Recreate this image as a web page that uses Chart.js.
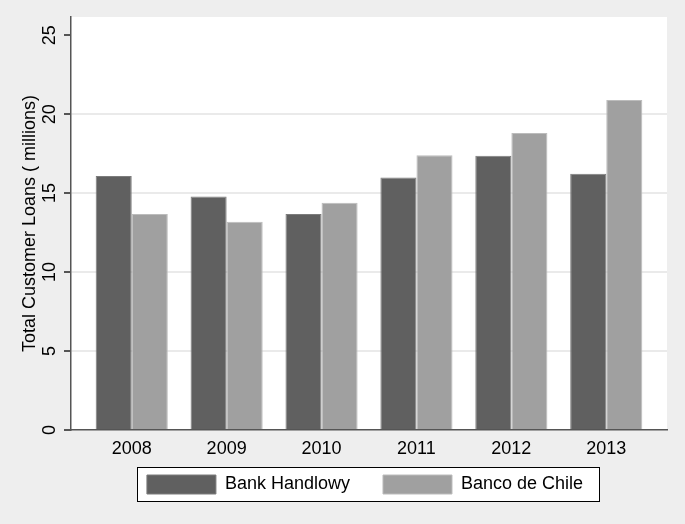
<!DOCTYPE html>
<html>
<head>
<meta charset="utf-8">
<script src="https://cdn.jsdelivr.net/npm/chart.js@4/dist/chart.umd.min.js"></script>
<style>
  html, body { margin: 0; padding: 0; background: #eeeeee; }
  #wrap { width: 685px; height: 524px; }
</style>
</head>
<body>
<div id="wrap"><canvas id="chartCanvas" width="685" height="524"></canvas></div>
<script>
// data
const years = ["2008", "2009", "2010", "2011", "2012", "2013"];
const bankHandlowy = [16.09, 14.79, 13.68, 15.98, 17.37, 16.23];
const bancoDeChile = [13.68, 13.19, 14.39, 17.39, 18.81, 20.90];
const yTicks = [0, 5, 10, 15, 20, 25];

const fontFamily = "'Liberation Sans', Arial, Helvetica, sans-serif";

// grey page, white plot region, framed legend
const backdrop = {
    id: "backdrop",
    afterLayout(chart) {
        // let the year labels hang into the legend's empty top padding
        chart.scales.x.bottom = chart.scales.x.top + 32;
        // legend sits a little left of centre, as in the original
        chart.legend.left -= 4;
        chart.legend.right -= 4;
    },
    beforeDraw(chart) {
        const ctx = chart.ctx;
        const a = chart.chartArea;
        ctx.save();
        ctx.fillStyle = "#eeeeee";
        ctx.fillRect(0, 0, chart.width, chart.height);
        ctx.fillStyle = "#ffffff";
        ctx.fillRect(a.left, a.top, a.right - a.left, a.bottom - a.top);

        const hb = chart.legend && chart.legend.legendHitBoxes;
        if (hb && hb.length) {
            const last = hb[hb.length - 1];
            const left = hb[0].left - 10;
            const right = last.left + last.width + 16;
            const top = hb[0].top - 8;
            const bottom = hb[0].top + hb[0].height + 7;
            ctx.fillStyle = "#ffffff";
            ctx.fillRect(left, top, right - left, bottom - top);
            ctx.strokeStyle = "#000000";
            ctx.lineWidth = 1;
            ctx.strokeRect(Math.round(left) + 0.5, Math.round(top) + 0.5,
                Math.round(right - left), Math.round(bottom - top));
        }
        ctx.restore();
    }
};

const ctx = document.getElementById("chartCanvas").getContext("2d");

new Chart(ctx, {
    type: "bar",
    data: {
        datasets: [
            {
                label: "Bank Handlowy",
                data: bankHandlowy.map((v, i) => ({ x: i, y: v })),
                backgroundColor: "#606060",
                borderColor: "#7c7c7c",
                borderWidth: 1,
            },
            {
                label: "Banco de Chile",
                data: bancoDeChile.map((v, i) => ({ x: i, y: v })),
                backgroundColor: "#a0a0a0",
                borderColor: "#bcbcbc",
                borderWidth: 1,
            },
        ],
    },
    options: {
        responsive: false,
        animation: false,
        categoryPercentage: 0.76,
        barPercentage: 1,
        layout: { padding: { left: 0, right: 18, top: 17, bottom: 20 } },
        plugins: {
            legend: {
                position: "bottom",
                fullSize: false,
                labels: {
                    boxWidth: 69,
                    boxHeight: 19,
                    padding: 33,
                    color: "#000000",
                    font: { family: fontFamily, size: 18 },
                },
            },
            tooltip: { enabled: false },
        },
        scales: {
            x: {
                type: "linear",
                offset: false,
                min: -0.64,
                max: 5.64,
                ticks: {
                    stepSize: 1,
                    includeBounds: false,
                    autoSkip: false,
                    maxRotation: 0,
                    padding: 8,
                    color: "#000000",
                    font: { family: fontFamily, size: 18 },
                    callback: (v) => (Number.isInteger(v) && years[v] !== undefined ? years[v] : ""),
                },
                grid: { display: false, drawTicks: false },
                border: { display: true, color: "#555555", width: 1.5 },
                afterFit: (scale) => { scale.height = 12; },
            },
            y: {
                min: 0,
                max: 26.15,
                afterBuildTicks: (scale) => {
                    scale.ticks = yTicks.map((v) => ({ value: v }));
                },
                ticks: {
                    includeBounds: false,
                    minRotation: 90,
                    maxRotation: 90,
                    crossAlign: "center",
                    padding: 4,
                    color: "#000000",
                    font: { family: fontFamily, size: 18 },
                },
                grid: {
                    color: (c) => (c.tick && c.tick.value > 0 && c.tick.value < 25 ? "#eaeaea" : "rgba(0,0,0,0)"),
                    lineWidth: 2,
                    tickColor: "#555555",
                    tickLength: 7,
                },
                border: { display: true, color: "#555555", width: 1.5 },
                title: {
                    display: true,
                    text: "Total Customer Loans ( millions)",
                    color: "#000000",
                    font: { family: fontFamily, size: 18 },
                    padding: { top: 19, bottom: 0 },
                },
                afterFit: (scale) => { scale.width = 71; },
            },
        },
    },
    plugins: [backdrop],
});
</script>
</body>
</html>
